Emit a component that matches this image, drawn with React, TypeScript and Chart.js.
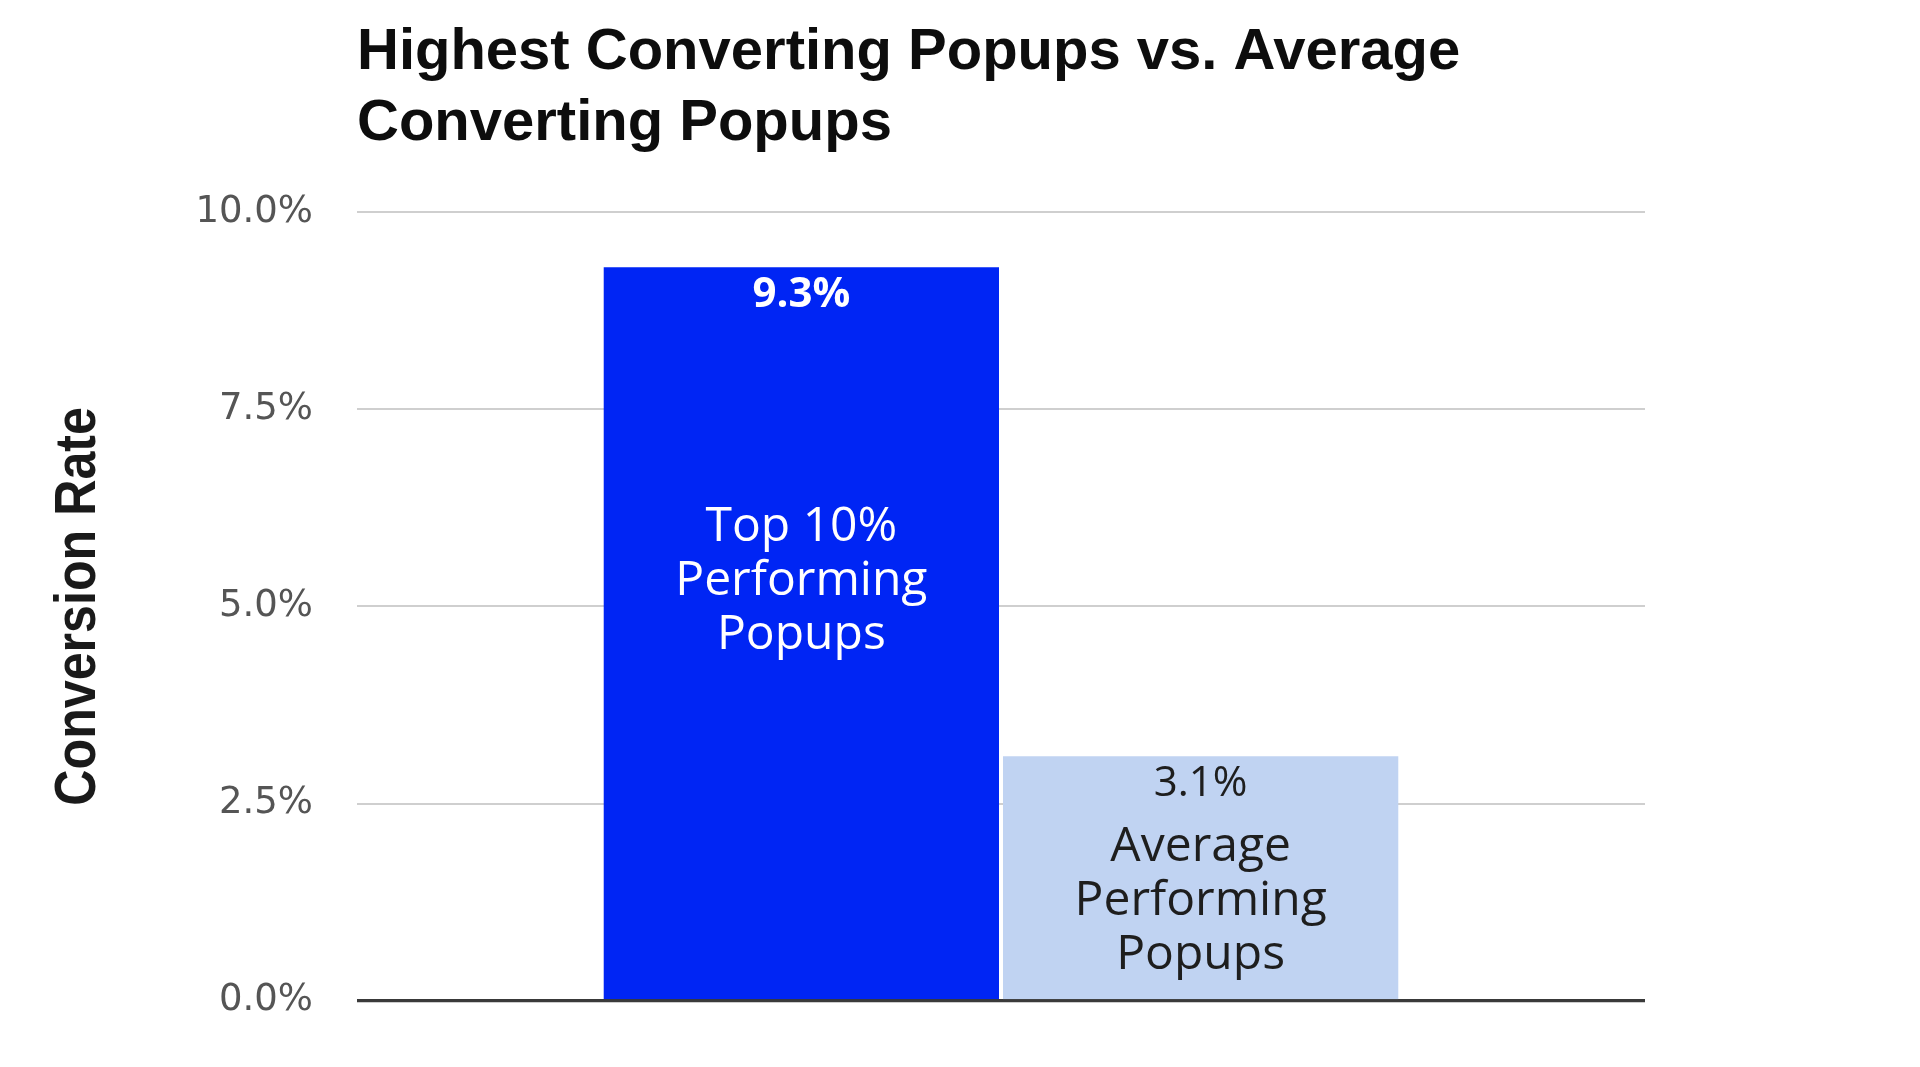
import React, { useEffect, useRef } from "react";
import { Chart, registerables } from "chart.js";

Chart.register(...registerables);

const titleLines = ["Highest Converting Popups vs. Average", "Converting Popups"];
const yAxisTitle = "Conversion Rate";
const categories = ["Top 10% Performing Popups", "Average Performing Popups"];
const categoryLines = [
  ["Top 10%", "Performing", "Popups"],
  ["Average", "Performing", "Popups"],
];
const conversionRates = [9.3, 3.1];
const yTickValues = [0, 2.5, 5, 7.5, 10];

const barColors = ["#0025F4", "#C0D3F2"];
const valueColors = ["#FFFFFF", "#1E1E1E"];
const valueWeights = ["bold", "normal"];
const labelColors = ["#FFFFFF", "#1E1E1E"];
const labelOffsets = [260, 91];

const overlayPlugin = {
  id: "overlay",
  afterDatasetsDraw(chart: any) {
    const ctx = chart.ctx;
    const area = chart.chartArea;
    const yScale = chart.scales.y;
    const y0 = yScale.getPixelForValue(0);
    ctx.save();
    ctx.strokeStyle = "#3a3a3a";
    ctx.lineWidth = 3;
    ctx.beginPath();
    ctx.moveTo(area.left, y0);
    ctx.lineTo(area.right, y0);
    ctx.stroke();

    chart.data.datasets.forEach((ds: any, i: number) => {
      const meta = chart.getDatasetMeta(i);
      const bar = meta.data[0];
      if (!bar) return;
      const { x, y } = bar.getProps(["x", "y"], true);
      ctx.textAlign = "center";
      ctx.textBaseline = "middle";
      ctx.fillStyle = valueColors[i];
      ctx.font = `${valueWeights[i]} 42px "Open Sans"`;
      ctx.fillText(ds.data[0].toFixed(1) + "%", x, y + 28);
      ctx.fillStyle = labelColors[i];
      ctx.font = `normal 48px "Open Sans"`;
      categoryLines[i].forEach((line, k) => {
        ctx.fillText(line, x, y + labelOffsets[i] + k * 54);
      });
    });
    ctx.restore();
  },
  afterDraw(chart: any) {
    const ctx = chart.ctx;
    const area = chart.chartArea;
    ctx.save();
    ctx.fillStyle = "#0d0d0d";
    ctx.font = `bold 58px "Liberation Sans"`;
    ctx.textAlign = "left";
    ctx.textBaseline = "middle";
    titleLines.forEach((line, k) => {
      ctx.fillText(line, area.left, 53 + k * 71);
    });
    ctx.translate(79, (area.top + area.bottom) / 2);
    ctx.rotate(-Math.PI / 2);
    ctx.scale(0.88, 1);
    ctx.textAlign = "center";
    ctx.fillStyle = "#1a1a1a";
    ctx.font = `bold 57px "Liberation Sans"`;
    ctx.fillText(yAxisTitle, 0, 0);
    ctx.restore();
  },
};

export default function App() {
  const ref = useRef<HTMLCanvasElement | null>(null);
  useEffect(() => {
    if (!ref.current) return;
    const chart = new Chart(ref.current, {
      type: "bar",
      data: {
        labels: [""],
        datasets: categories.map((c, i) => ({
          label: c,
          data: [conversionRates[i]],
          backgroundColor: barColors[i],
          borderWidth: 0,
          categoryPercentage: 0.62,
          barPercentage: 0.99,
        })),
      },
      options: {
        animation: false,
        responsive: false,
        devicePixelRatio: 1,
        layout: { padding: { left: 0, right: 275, top: 212, bottom: 60 } },
        plugins: {
          legend: { display: false },
          title: { display: false },
          tooltip: { enabled: false },
        },
        scales: {
          x: { display: false },
          y: {
            min: 0,
            max: 10,
            afterBuildTicks: (scale: any) => {
              scale.ticks = yTickValues.map((v) => ({ value: v }));
            },
            afterFit: (scale: any) => {
              scale.width = 357;
            },
            border: { display: false },
            grid: {
              drawTicks: false,
              color: (c: any) => (c.tick && c.tick.value === 0 ? "#3a3a3a" : "#cfcfcf"),
              lineWidth: (c: any) => (c.tick && c.tick.value === 0 ? 3 : 2),
            },
            ticks: {
              padding: 44,
              color: "#555555",
              font: { family: "DejaVu Sans", size: 37 },
              callback: (v: any) => Number(v).toFixed(1) + "%",
            },
          },
        },
      },
      plugins: [overlayPlugin],
    });
    return () => chart.destroy();
  }, []);
  return (
    <div style={{ position: "fixed", left: 0, top: 0, width: 1920, height: 1067, background: "#fff" }}>
      <canvas ref={ref} width={1920} height={1067} style={{ width: 1920, height: 1067 }} />
    </div>
  );
}
